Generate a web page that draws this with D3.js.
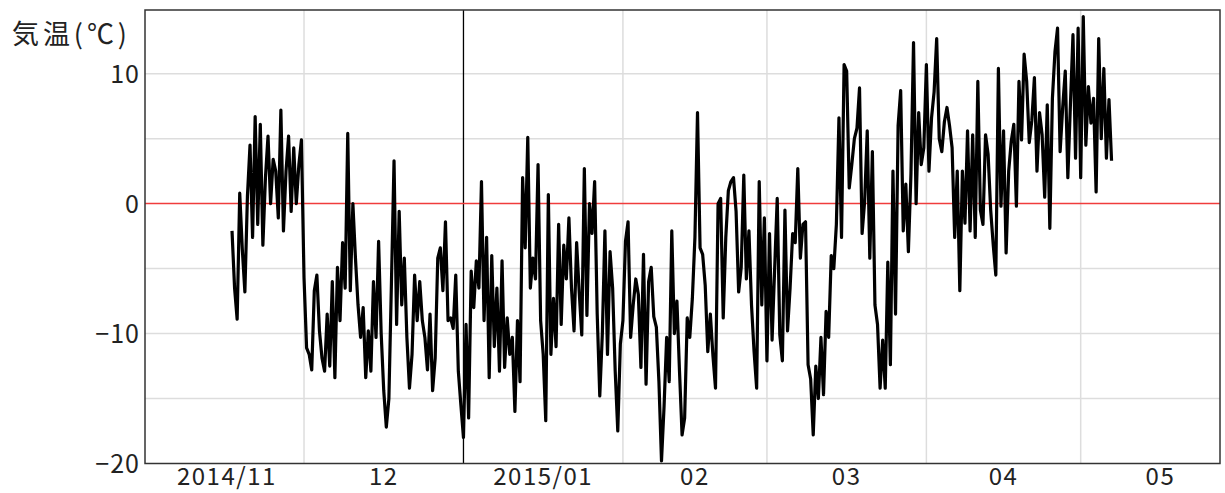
<!DOCTYPE html>
<html>
<head>
<meta charset="utf-8">
<script src="https://cdn.jsdelivr.net/npm/d3@7"></script>
<style>
  body { margin: 0; background: #fff; }
  text { font-family: "Noto Sans CJK JP", "Noto Sans", sans-serif; fill: #222; }
</style>
</head>
<body>
<svg id="chart" width="1225" height="493"></svg>
<script>
// readings every 12 hours, starting 2014-11-17 00:00
const startTime = new Date(2014, 10, 17, 0);
const stepHours = 12;
const temps = [
  -2.1, -6.5, -8.9, 0.8, -3.5, -6.8, 0.6, 4.5, -2.6, 6.7, -1.6, 6.1, -3.2, 2.0, 5.2, 0.0,
  3.4, 2.5, -1.1, 7.2, -2.1, 2.5, 5.2, -0.6, 4.3, 0.0, 3.0, 4.9, -5.7, -11.1, -11.6, -12.8,
  -6.7, -5.5, -9.8, -11.9, -12.9, -8.5, -12.5, -6.0, -13.4, -4.9, -9.0, -3.0, -6.5, 5.4, -6.7, 0.0,
  -4.2, -7.8, -10.3, -8.0, -13.4, -9.8, -12.9, -6.0, -10.3, -2.9, -10.0, -14.4, -17.2, -15.0, -6.0, 3.3,
  -9.3, -0.6, -7.8, -4.2, -10.3, -14.2, -11.6, -5.5, -9.0, -6.0, -9.0, -10.3, -12.8, -8.5, -14.4, -11.9,
  -4.2, -3.4, -6.7, -1.4, -9.0, -8.8, -9.6, -5.5, -12.9, -15.5, -18.0, -9.3, -16.5, -5.2, -8.0, -4.4,
  -6.5, 1.7, -9.0, -2.6, -13.4, -4.0, -11.0, -6.5, -12.9, -4.4, -12.6, -8.8, -11.6, -10.3, -16.0, -9.0,
  -13.7, 2.0, -3.4, 5.1, -6.5, -4.2, -5.8, 3.0, -9.0, -11.6, -16.7, 0.7, -11.6, -7.3, -11.0, -1.6,
  -9.3, -3.2, -5.8, -1.1, -6.5, -9.8, -3.0, -6.8, -10.1, 2.7, -8.6, 0.0, -2.3, 1.7, -8.5, -14.8,
  -10.0, -2.1, -11.6, -3.7, -6.5, -12.9, -17.5, -10.8, -9.0, -2.9, -1.4, -10.3, -7.8, -5.8, -7.0, -12.6,
  -3.9, -13.9, -6.0, -4.9, -8.7, -9.5, -13.7, -19.8, -15.6, -10.3, -13.7, -2.1, -10.0, -7.5, -12.9, -17.8,
  -16.5, -8.8, -10.3, -7.3, -2.6, 7.0, -3.4, -3.9, -6.3, -11.4, -8.5, -11.7, -14.2, 0.0, 0.4, -8.8,
  -2.6, 1.0, 1.7, 2.0, -0.6, -6.8, -4.9, 2.2, -5.8, -2.1, -7.8, -11.4, -14.2, 1.7, -7.8, -1.1,
  -12.1, -2.3, -10.5, -5.0, 0.4, -10.1, -12.1, -0.5, -9.8, -6.5, -2.3, -3.0, 2.7, -4.2, -1.6, -1.4,
  -12.4, -13.5, -17.8, -12.5, -15.0, -10.3, -14.7, -8.3, -10.3, -4.0, -5.0, -1.6, 6.6, -2.6, 10.7, 10.2,
  1.2, 3.0, 5.0, 5.8, 8.9, -2.3, 0.2, 5.6, -4.2, 4.0, -7.8, -9.3, -14.2, -10.5, -14.2, -4.5,
  -12.4, 2.5, -8.5, 6.0, 8.7, -2.1, 1.5, -3.7, 2.3, 12.4, 0.0, 7.0, 3.0, 4.3, 10.7, 2.5,
  6.6, 8.6, 12.7, 5.0, 4.0, 6.3, 7.4, 6.0, 4.3, -2.6, 2.5, -6.7, 2.5, -1.5, 5.6, -2.1,
  5.3, -2.6, 9.4, -0.5, -1.6, 5.3, 3.8, -0.5, -3.2, -5.5, 10.4, -0.2, 5.6, -3.8, 2.5, 4.8,
  6.1, -0.2, 9.4, 4.9, 11.5, 9.4, 4.7, 6.4, 9.7, 2.5, 7.0, 5.3, 0.5, 7.6, -1.9, 8.1,
  11.7, 13.5, 4.0, 7.4, 10.2, 2.0, 7.6, 13.0, 3.5, 13.5, 2.0, 14.4, 4.5, 9.0, 6.2, 8.1,
  0.9, 12.7, 5.0, 10.4, 3.5, 8.0, 3.3
];
const yTickValues = [10, 0, -10, -20];
const yGridValues = [10, 5, -5, -10, -15];
const monthStarts = ["2014-11", "2014-12", "2015-01", "2015-02", "2015-03", "2015-04", "2015-05"];
const monthLabels = ["2014/11", "12", "2015/01", "02", "03", "04", "05"];
const yTitle = "気温(℃)";

const svg = d3.select("#chart");
const margin = { top: 10, right: 5, bottom: 29.5, left: 145 };
const width = +svg.attr("width");
const height = +svg.attr("height");

const data = temps.map((v, i) => ({
  t: d3.timeHour.offset(startTime, i * stepHours),
  v: v
}));

const x = d3.scaleTime()
  .domain([new Date(2014, 9, 31, 2), new Date(2015, 4, 28, 2)])
  .range([margin.left, width - margin.right]);
const y = d3.scaleLinear()
  .domain([-20, 14.9])
  .range([height - margin.bottom, margin.top]);

const parseMonth = d3.timeParse("%Y-%m");
const months = monthStarts.map(parseMonth);

// horizontal grid
svg.append("g")
  .selectAll("line")
  .data(yGridValues)
  .join("line")
  .attr("x1", margin.left).attr("x2", width - margin.right)
  .attr("y1", d => y(d)).attr("y2", d => y(d))
  .attr("stroke", "#dddddd")
  .attr("stroke-width", 1.5);

// vertical month grid (Nov 1 falls on the frame, skip it)
svg.append("g")
  .selectAll("line")
  .data(months.filter(m => x(m) > margin.left + 10))
  .join("line")
  .attr("x1", d => x(d)).attr("x2", d => x(d))
  .attr("y1", margin.top).attr("y2", height - margin.bottom)
  .attr("stroke", d => d.getMonth() === 0 ? "#000" : "#dddddd")
  .attr("stroke-width", d => d.getMonth() === 0 ? 1.3 : 1.5);

// zero line
svg.append("line")
  .attr("x1", margin.left).attr("x2", width - margin.right)
  .attr("y1", y(0)).attr("y2", y(0))
  .attr("stroke", "#f03c3c")
  .attr("stroke-width", 1.5);

// temperature line
const line = d3.line()
  .x(d => x(d.t))
  .y(d => y(d.v));

svg.append("path")
  .datum(data)
  .attr("fill", "none")
  .attr("stroke", "#000")
  .attr("stroke-width", 3.2)
  .attr("stroke-linejoin", "round")
  .attr("d", line);

// frame
svg.append("rect")
  .attr("x", margin.left)
  .attr("y", margin.top)
  .attr("width", width - margin.left - margin.right)
  .attr("height", height - margin.top - margin.bottom)
  .attr("fill", "none")
  .attr("stroke", "#333")
  .attr("stroke-width", 1.5);

// y tick labels
svg.append("g")
  .selectAll("text")
  .data(yTickValues)
  .join("text")
  .attr("x", margin.left - 5)
  .attr("y", d => y(d))
  .attr("dy", "0.36em")
  .attr("text-anchor", "end")
  .style("font-size", "25px")
  .style("letter-spacing", "1px")
  .text(d3.format("d"));

// x month labels centred in each month
svg.append("g")
  .selectAll("text")
  .data(months)
  .join("text")
  .attr("x", d => x(new Date((+d + +d3.timeMonth.offset(d, 1)) / 2)))
  .attr("y", 485)
  .attr("text-anchor", "middle")
  .style("font-size", "24px")
  .style("letter-spacing", "1.5px")
  .text((d, i) => monthLabels[i]);

// axis title
svg.append("text")
  .attr("x", 12)
  .attr("y", 44)
  .attr("textLength", 115)
  .attr("lengthAdjust", "spacing")
  .style("font-size", "27px")
  .text(yTitle);
</script>
</body>
</html>
